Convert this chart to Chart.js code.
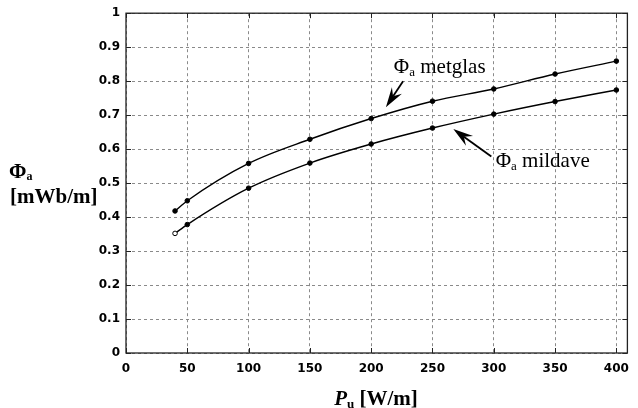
<!DOCTYPE html>
<html><head><meta charset="utf-8">
<script src="https://cdn.jsdelivr.net/npm/chart.js@4/dist/chart.umd.min.js"></script>
<style>html,body{margin:0;padding:0;background:#fff}#wrap{width:638px;height:408px}</style>
</head><body><div id="wrap"><canvas id="c" width="638" height="408"></canvas></div>
<script>
const powerLevels = [40, 50, 100, 150, 200, 250, 300, 350, 400];
const fluxMetglas = [0.418, 0.448, 0.558, 0.629, 0.690, 0.741, 0.777, 0.821, 0.859];
const fluxMildave = [0.352, 0.378, 0.485, 0.559, 0.615, 0.662, 0.703, 0.740, 0.774];
const xTickValues = [0, 50, 100, 150, 200, 250, 300, 350, 400];
const yTickValues = [0, 0.1, 0.2, 0.3, 0.4, 0.5, 0.6, 0.7, 0.8, 0.9, 1];
const seriesNames = ['metglas', 'mildave'];
// annotation anchors in data units: [textX, textY, tailX, tailY, tipX, tipY]
const labelAnchors = [
  [218.5, 0.8235, 226, 0.800, 212, 0.7235],
  [301.6, 0.547, 298, 0.578, 267, 0.659]
];

const toXY = (xs, ys) => xs.map((x, i) => ({x: x, y: ys[i]}));

const framePlugin = {
  id: 'frame',
  afterDraw(chart) {
    const ctx = chart.ctx, a = chart.chartArea;
    const xs = chart.scales.x, ys = chart.scales.y;
    ctx.save();
    ctx.strokeStyle = '#222';
    ctx.lineWidth = 1.3;
    ctx.setLineDash([]);
    ctx.strokeRect(a.left, a.top, a.right - a.left, a.bottom - a.top);
    ctx.lineWidth = 1;
    ctx.beginPath();
    xTickValues.forEach(v => {
      const px = Math.round(xs.getPixelForValue(v)) + 0.5;
      ctx.moveTo(px, a.bottom); ctx.lineTo(px, a.bottom - 5);
      ctx.moveTo(px, a.top); ctx.lineTo(px, a.top + 5);
    });
    yTickValues.forEach(v => {
      const py = Math.round(ys.getPixelForValue(v)) + 0.5;
      ctx.moveTo(a.left, py); ctx.lineTo(a.left + 5, py);
      ctx.moveTo(a.right, py); ctx.lineTo(a.right - 5, py);
    });
    ctx.stroke();

    ctx.fillStyle = '#000';
    ctx.strokeStyle = '#000';
    labelAnchors.forEach((an, i) => {
      const tx = xs.getPixelForValue(an[0]), ty = ys.getPixelForValue(an[1]);
      ctx.textBaseline = 'alphabetic';
      ctx.textAlign = 'left';
      ctx.font = '21px "Liberation Serif", "Times New Roman", serif';
      ctx.fillText('\u03A6', tx, ty);
      let w = ctx.measureText('\u03A6').width;
      ctx.font = '13px "Liberation Serif", "Times New Roman", serif';
      ctx.fillText('a', tx + w, ty + 3);
      w += ctx.measureText('a').width;
      ctx.font = '21px "Liberation Serif", "Times New Roman", serif';
      ctx.fillText(' ' + seriesNames[i], tx + w, ty);
      const x0 = xs.getPixelForValue(an[2]), y0 = ys.getPixelForValue(an[3]);
      const x1 = xs.getPixelForValue(an[4]), y1 = ys.getPixelForValue(an[5]);
      const ang = Math.atan2(y1 - y0, x1 - x0);
      const L = 20, H = 6, N = 13;
      ctx.lineWidth = 1.8;
      ctx.beginPath();
      ctx.moveTo(x0, y0);
      ctx.lineTo(x1 - Math.cos(ang) * N, y1 - Math.sin(ang) * N);
      ctx.stroke();
      const c = Math.cos(ang), s = Math.sin(ang);
      const bx = x1 - c * L, by = y1 - s * L;
      ctx.beginPath();
      ctx.moveTo(x1, y1);
      ctx.lineTo(bx - s * H, by + c * H);
      ctx.lineTo(x1 - c * N, y1 - s * N);
      ctx.lineTo(bx + s * H, by - c * H);
      ctx.closePath();
      ctx.fill();
    });

    ctx.textAlign = 'left';
    ctx.font = 'bold 21px "Liberation Serif", "Times New Roman", serif';
    ctx.fillText('\u03A6', 9, 178);
    let pw = ctx.measureText('\u03A6').width;
    ctx.font = 'bold 12px "Liberation Serif", "Times New Roman", serif';
    ctx.fillText('a', 9 + pw, 180);
    ctx.font = 'bold 21px "Liberation Serif", "Times New Roman", serif';
    ctx.fillText('[mWb/m]', 10, 203);

    const f1 = 'italic bold 21px "Liberation Serif", "Times New Roman", serif';
    const f2 = 'bold 13px "Liberation Serif", "Times New Roman", serif';
    const f3 = 'bold 21px "Liberation Serif", "Times New Roman", serif';
    ctx.font = f1; const w1 = ctx.measureText('P').width;
    ctx.font = f2; const w2 = ctx.measureText('u').width;
    ctx.font = f3; const w3 = ctx.measureText(' [W/m]').width;
    const total = w1 + w2 + w3;
    let sx = 376 - total / 2;
    const base = 405;
    ctx.font = f1; ctx.fillText('P', sx, base); sx += w1;
    ctx.font = f2; ctx.fillText('u', sx, base + 3); sx += w2;
    ctx.font = f3; ctx.fillText(' [W/m]', sx, base);
    ctx.restore();
  }
};

const lineStyle = {
  borderColor: '#000',
  borderWidth: 1.4,
  pointRadius: 2.3,
  pointBorderWidth: 1,
  pointBorderColor: '#000',
  cubicInterpolationMode: 'monotone',
  fill: false
};

new Chart(document.getElementById('c'), {
  type: 'scatter',
  data: {
    datasets: [
      Object.assign({label: seriesNames[0], data: toXY(powerLevels, fluxMetglas), showLine: true,
        pointBackgroundColor: '#000'}, lineStyle),
      Object.assign({label: seriesNames[1], data: toXY(powerLevels, fluxMildave), showLine: true,
        pointBackgroundColor: (ctx) => ctx.dataIndex === 0 ? '#fff' : '#000'}, lineStyle)
    ]
  },
  options: {
    responsive: false,
    animation: false,
    devicePixelRatio: 1,
    layout: {padding: {left: 0, right: 4, top: 13, bottom: 0}},
    plugins: {legend: {display: false}, tooltip: {enabled: false}},
    scales: {
      x: {
        type: 'linear', min: 0, max: 409,
        afterBuildTicks: (s) => { s.ticks = xTickValues.map(v => ({value: v})); },
        afterFit: (s) => { s.height = 55; },
        grid: {color: '#8a8a8a', lineWidth: 1, drawTicks: false},
        border: {display: false, dash: [3, 3]},
        ticks: {padding: 9, color: '#000', font: {family: '"DejaVu Sans"', weight: 'bold', size: 12},
          callback: (v) => String(v), maxRotation: 0}
      },
      y: {
        type: 'linear', min: 0, max: 1,
        afterBuildTicks: (s) => { s.ticks = yTickValues.map(v => ({value: v})); },
        afterFit: (s) => { s.width = 126; },
        grid: {color: '#8a8a8a', lineWidth: 1, drawTicks: false},
        border: {display: false, dash: [3, 3]},
        ticks: {padding: 6, color: '#000', font: {family: '"DejaVu Sans"', weight: 'bold', size: 12},
          callback: (v) => String(Math.round(v * 10) / 10)}
      }
    }
  },
  plugins: [framePlugin]
});
</script></body></html>
